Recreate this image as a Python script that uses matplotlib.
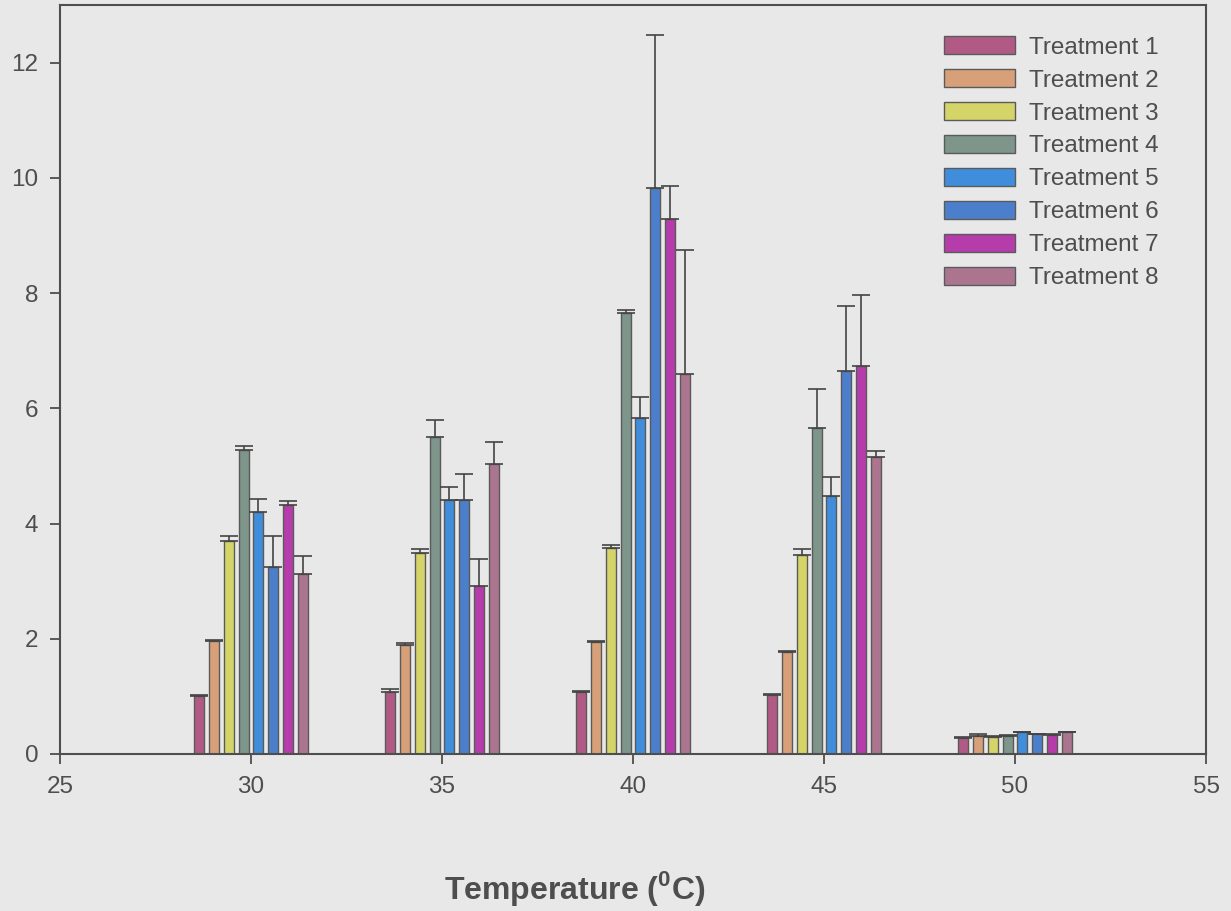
import numpy as np
import matplotlib
matplotlib.use("Agg")
import matplotlib.pyplot as plt

# temperatures (x positions of the groups)
temps = [30, 35, 40, 45, 50]
labels = ["Treatment 1", "Treatment 2", "Treatment 3", "Treatment 4",
          "Treatment 5", "Treatment 6", "Treatment 7", "Treatment 8"]

# mean values, one list per treatment (30, 35, 40, 45, 50 C)
t1 = [1.00, 1.08, 1.07, 1.03, 0.27]
t2 = [1.96, 1.90, 1.94, 1.77, 0.32]
t3 = [3.70, 3.49, 3.57, 3.45, 0.29]
t4 = [5.27, 5.50, 7.66, 5.66, 0.32]
t5 = [4.20, 4.40, 5.84, 4.48, 0.38]
t6 = [3.25, 4.41, 9.83, 6.64, 0.34]
t7 = [4.33, 2.92, 9.29, 6.74, 0.33]
t8 = [3.13, 5.03, 6.59, 5.16, 0.38]

# upper error (only drawn upwards)
e1 = [0.02, 0.05, 0.02, 0.02, 0.03]
e2 = [0.02, 0.02, 0.02, 0.02, 0.03]
e3 = [0.09, 0.06, 0.06, 0.10, 0.02]
e4 = [0.07, 0.30, 0.05, 0.67, 0.01]
e5 = [0.22, 0.23, 0.36, 0.33, 0.01]
e6 = [0.54, 0.45, 2.65, 1.13, 0.01]
e7 = [0.06, 0.47, 0.56, 1.23, 0.01]
e8 = [0.30, 0.39, 2.15, 0.10, 0.01]

means = [t1, t2, t3, t4, t5, t6, t7, t8]
errs = [e1, e2, e3, e4, e5, e6, e7, e8]
colors = ["#b05a85", "#d8a078", "#d4d468", "#7d958a",
          "#3f8ddb", "#4c7fcb", "#b63cac", "#ab7590"]

bg = "#e8e8e8"
ink = "#4e4e4e"

plt.rcParams['font.family'] = ['Liberation Sans', 'DejaVu Sans']
plt.rcParams['mathtext.fontset'] = 'custom'
plt.rcParams['mathtext.rm'] = 'Liberation Sans'
plt.rcParams['mathtext.bf'] = 'Liberation Sans:bold'

fig = plt.figure(figsize=(12.31, 9.11), dpi=100, facecolor=bg)
ax = fig.add_axes([60 / 1231, 1 - 754 / 911, 1146 / 1231, 749 / 911])
ax.set_facecolor(bg)

pitch = 0.39
width = 0.26
x = np.array(temps, dtype=float)
for i in range(8):
    off = (i - 3.5) * pitch
    ax.bar(x + off, means[i], width=width, color=colors[i],
           edgecolor="#5a5a5a", linewidth=1.0, label=labels[i], zorder=2)
    ax.errorbar(x + off, means[i], yerr=[np.zeros(5), errs[i]], fmt="none",
                ecolor="#444444", elinewidth=1.2, capsize=6.8,
                capthick=1.2, zorder=3)

ax.set_xlim(25, 55)
ax.set_ylim(0, 13)
ax.set_xticks([25, 30, 35, 40, 45, 50, 55])
ax.set_yticks([0, 2, 4, 6, 8, 10, 12])

for s in ax.spines.values():
    s.set_color(ink)
    s.set_linewidth(1.5)

ax.tick_params(axis="both", direction="out", length=7.5, width=1.3,
               color=ink, labelcolor=ink, labelsize=17.5)
ax.tick_params(axis="y", pad=8)
ax.tick_params(axis="x", pad=8)

fig.text(575 / 1231, 1 - 889 / 911, r"Temperature ($^{\mathbf{0}}$C)",
         ha="center", va="center", fontsize=23, fontweight="bold",
         color=ink, family=['Liberation Sans Narrow', 'Liberation Sans'])

leg = ax.legend(loc="upper right", bbox_to_anchor=(0.978, 0.988),
                frameon=False, fontsize=17.5, handlelength=2.9,
                handleheight=0.8, labelspacing=0.42, handletextpad=0.6,
                labelcolor=ink)

fig.savefig("out.png", dpi=100, facecolor=bg)
